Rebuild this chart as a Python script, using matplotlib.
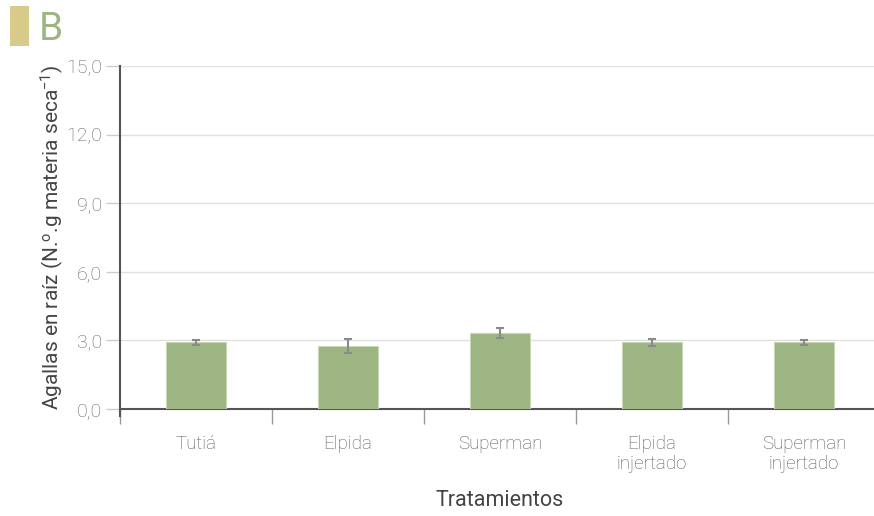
import numpy as np
import matplotlib.pyplot as plt
from matplotlib.patches import Rectangle
from matplotlib.ticker import FuncFormatter

# Data
treatments = ["Tutiá", "Elpida", "Superman", "Elpida\ninjertado", "Superman\ninjertado"]
galls = [2.92, 2.75, 3.32, 2.92, 2.92]
errors = [0.10, 0.29, 0.23, 0.15, 0.10]
yticks = [0, 3, 6, 9, 12, 15]

plt.rcParams['font.family'] = ['Roboto', 'DejaVu Sans']
plt.rcParams['mathtext.fontset'] = 'custom'
plt.rcParams['mathtext.rm'] = 'Roboto'
plt.rcParams['mathtext.it'] = 'Roboto'

fig = plt.figure(figsize=(8.74, 5.16), dpi=100)
W, H = 874, 516
ax = fig.add_axes([120 / W, 1 - 409 / H, 760 / W, (409 - 66) / H])

x = np.arange(len(treatments))
ax.bar(x, galls, width=0.4, color='#9cb582', edgecolor='#c9d9b8', linewidth=0.8, zorder=3)
ax.errorbar(x, galls, yerr=errors, fmt='none', ecolor='#8a8a8a', elinewidth=1.5,
            capsize=3, capthick=1.5, zorder=4)

ax.set_xlim(-0.5, len(treatments) - 0.5)
ax.set_ylim(0, 15)
ax.set_yticks(yticks)
ax.yaxis.set_major_formatter(FuncFormatter(lambda v, p: f"{v:.1f}".replace('.', ',')))
ax.grid(axis='y', color='#e0e0e0', linewidth=1, zorder=0)

ax.set_xticks(x)
ax.set_xticklabels(treatments, fontsize=13.5, color='#5a5a5a', fontweight='light', linespacing=1.15)
ax.set_xticks(np.arange(len(treatments) + 1) - 0.5, minor=True)
ax.tick_params(axis='x', which='major', length=0, pad=19)
ax.tick_params(axis='x', which='minor', length=11, color='#999999', width=1)
ax.tick_params(axis='y', length=10, color='#cccccc', width=1, labelsize=14, labelcolor='#666666', pad=3)
for lab in ax.get_yticklabels():
    lab.set_fontweight('light')

for side in ['top', 'right']:
    ax.spines[side].set_visible(False)
ax.spines['left'].set_color('#555555')
ax.spines['left'].set_linewidth(1.5)
ax.spines['left'].set_bounds(-0.3, 15)
ax.spines['bottom'].set_color('#555555')
ax.spines['bottom'].set_linewidth(1.5)

ax.set_ylabel(r"Agallas en raíz (N.$^{\mathrm{o}}$.g materia seca$^{\mathrm{-1}}$)",
              fontsize=15, color='#444444', labelpad=0)
ax.set_xlabel("Tratamientos", fontsize=15.5, color='#444444', labelpad=12)

# panel tag
fig.patches.append(Rectangle((10 / W, 1 - 46 / H), 19 / W, 40 / H, transform=fig.transFigure,
                             facecolor='#d8cb8a', edgecolor='none'))
fig.text(39 / W, 1 - 29 / H, "B", fontsize=28, color='#9cb582', va='center', ha='left')

fig.savefig("out.png", dpi=100)
